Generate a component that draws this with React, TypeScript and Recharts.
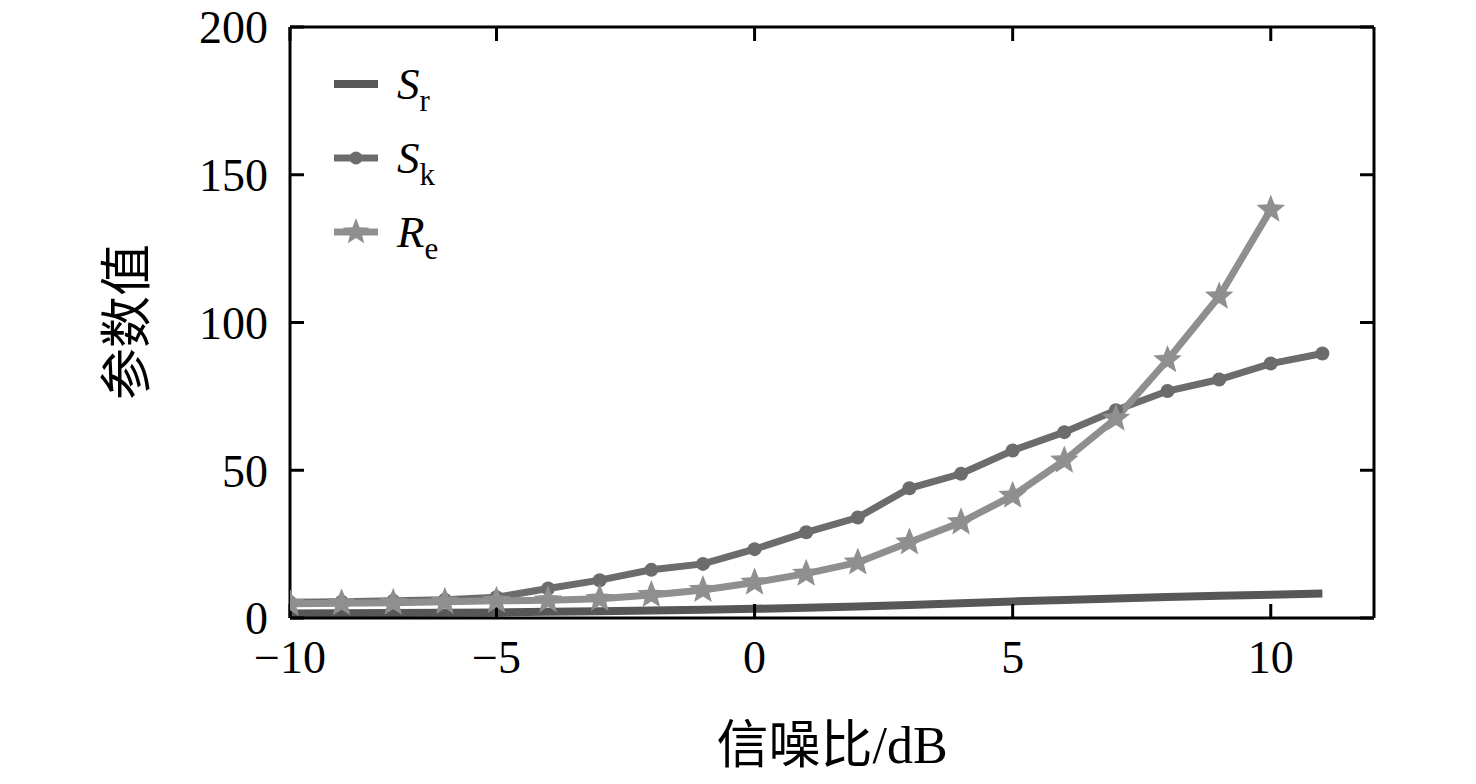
import React from "react";
import { LineChart, Line, XAxis, YAxis, Legend } from "recharts";

// SNR (dB) sample points
const snr = [-9, -8, -7, -6, -5, -4, -3, -2, -1, 0, 1, 2, 3, 4, 5, 6, 7, 8, 9, 10, 11];
const srValues = [1.5, 1.6, 1.7, 1.8, 1.9, 2.1, 2.3, 2.5, 2.8, 3.1, 3.5, 3.9, 4.4, 5.0, 5.6, 6.1, 6.6, 7.1, 7.5, 7.9, 8.3];
const skValues = [5.3, 5.5, 5.8, 6.2, 7.0, 10, 12.8, 16.3, 18.3, 23.3, 29, 34, 43.9, 48.8, 56.7, 62.9, 70.3, 76.8, 80.7, 86.1, 89.5];
const reValues = [4.8, 5.0, 5.2, 5.5, 5.8, 6.0, 6.5, 7.8, 9.5, 12, 15, 18.8, 25.6, 32.4, 41.4, 53.3, 67.5, 87.3, 108.8, 138.2, null];

const xTicks = [-9, -5, 0, 5, 10];
const xTickLabels = ["\u221210", "\u22125", "0", "5", "10"];
const yTicks = [0, 50, 100, 150, 200];

const data = snr.map((x, i) => ({ x, sr: srValues[i], sk: skValues[i], re: reValues[i] }));

const SR_COLOR = "#575757";
const SK_COLOR = "#6c6c6c";
const RE_COLOR = "#8f8f8f";
const SERIF = "'Liberation Serif', 'Times New Roman', 'Noto Sans CJK SC', serif";

const starPoints = (cx: number, cy: number, ro: number, ri: number) => {
  const pts: string[] = [];
  for (let k = 0; k < 10; k++) {
    const r = k % 2 === 0 ? ro : ri;
    const a = -Math.PI / 2 + (k * Math.PI) / 5;
    pts.push(`${cx + r * Math.cos(a)},${cy + r * Math.sin(a)}`);
  }
  return pts.join(" ");
};

const StarDot = (props: any) => {
  const { cx, cy, value } = props;
  if (cx == null || cy == null || value == null) return null;
  return <polygon points={starPoints(cx, cy, 15, 6.5)} fill={RE_COLOR} />;
};

const legendItems = [
  { key: "sr", main: "S", sub: "r", color: SR_COLOR, width: 8, marker: "none" },
  { key: "sk", main: "S", sub: "k", color: SK_COLOR, width: 7, marker: "dot" },
  { key: "re", main: "R", sub: "e", color: RE_COLOR, width: 7, marker: "star" },
];

const renderLegend = () => (
  <div style={{ fontFamily: SERIF }}>
    {legendItems.map((it) => (
      <div key={it.key} style={{ display: "flex", alignItems: "center", height: 74 }}>
        <svg width={46} height={32} style={{ marginRight: 18 }}>
          <line x1={1} y1={16} x2={45} y2={16} stroke={it.color} strokeWidth={it.width} />
          {it.marker === "dot" && <circle cx={23} cy={16} r={6.5} fill={it.color} />}
          {it.marker === "star" && <polygon points={starPoints(23, 16, 14, 6)} fill={it.color} />}
        </svg>
        <span style={{ fontSize: 45, fontStyle: "italic", lineHeight: 1 }}>{it.main}</span>
        <span style={{ fontSize: 31, position: "relative", top: 16, lineHeight: 1 }}>{it.sub}</span>
      </div>
    ))}
  </div>
);

const tickStyle = { fontFamily: SERIF, fontSize: 46, fill: "#000" };
const axisLineStyle = { stroke: "#000", strokeWidth: 3 };
const tickLineStyle = { stroke: "#000", strokeWidth: 3 };
const noLabel = () => "";

export default function App() {
  return (
    <div style={{ position: "absolute", left: 0, top: 0, width: 1476, height: 784, background: "#fff" }}>
      <LineChart
        width={1476}
        height={784}
        data={data}
        margin={{ top: 27, right: 102, bottom: 106, left: 210 }}
      >
        {/* inward tick marks on the bottom frame */}
        <XAxis
          dataKey="x"
          type="number"
          domain={[-9, 12]}
          ticks={xTicks}
          height={1}
          mirror
          tickSize={14}
          tickFormatter={noLabel}
          axisLine={axisLineStyle}
          tickLine={tickLineStyle}
          allowDataOverflow
        />
        <XAxis
          xAxisId="labels"
          dataKey="x"
          type="number"
          domain={[-9, 12]}
          ticks={xTicks}
          tickFormatter={(v: number) => xTickLabels[xTicks.indexOf(v)] ?? String(v)}
          height={60}
          tickSize={-14}
          tickMargin={36}
          axisLine={false}
          tickLine={false}
          tick={tickStyle}
          allowDataOverflow
        />
        <XAxis
          xAxisId="top"
          orientation="top"
          dataKey="x"
          type="number"
          domain={[-9, 12]}
          ticks={xTicks}
          height={1}
          mirror
          tickSize={14}
          tickFormatter={noLabel}
          axisLine={axisLineStyle}
          tickLine={tickLineStyle}
          allowDataOverflow
        />
        {/* inward tick marks on the left frame */}
        <YAxis
          type="number"
          domain={[0, 200]}
          ticks={yTicks}
          width={1}
          mirror
          tickSize={14}
          tickFormatter={noLabel}
          axisLine={axisLineStyle}
          tickLine={tickLineStyle}
          allowDataOverflow
        />
        <YAxis
          yAxisId="labels"
          type="number"
          domain={[0, 200]}
          ticks={yTicks}
          width={80}
          tickSize={-14}
          tickMargin={36}
          axisLine={false}
          tickLine={false}
          tick={tickStyle}
          allowDataOverflow
        />
        <YAxis
          yAxisId="right"
          orientation="right"
          type="number"
          domain={[0, 200]}
          ticks={yTicks}
          width={1}
          mirror
          tickSize={14}
          tickFormatter={noLabel}
          axisLine={axisLineStyle}
          tickLine={tickLineStyle}
          allowDataOverflow
        />
        <Legend
          content={renderLegend}
          layout="vertical"
          align="center"
          verticalAlign="middle"
          wrapperStyle={{ position: "absolute", left: 333, top: 47, width: 200, height: 230 }}
        />
        <Line
          dataKey="sr"
          stroke={SR_COLOR}
          strokeWidth={8}
          dot={false}
          activeDot={false}
          isAnimationActive={false}
          type="linear"
        />
        <Line
          dataKey="sk"
          stroke={SK_COLOR}
          strokeWidth={7}
          dot={{ r: 7, fill: SK_COLOR, stroke: "none" }}
          activeDot={false}
          isAnimationActive={false}
          type="linear"
        />
        <Line
          dataKey="re"
          stroke={RE_COLOR}
          strokeWidth={7}
          dot={<StarDot />}
          activeDot={false}
          isAnimationActive={false}
          type="linear"
        />
      </LineChart>
      <div
        style={{
          position: "absolute",
          left: 128,
          top: 322,
          transform: "translate(-50%, -50%) rotate(-90deg)",
          fontFamily: SERIF,
          fontSize: 52,
          whiteSpace: "nowrap",
          lineHeight: 1,
        }}
      >
        参数值
      </div>
      <div
        style={{
          position: "absolute",
          left: 832,
          top: 746,
          transform: "translate(-50%, -50%)",
          fontFamily: SERIF,
          fontSize: 52,
          whiteSpace: "nowrap",
          lineHeight: 1,
        }}
      >
        信噪比/dB
      </div>
    </div>
  );
}
